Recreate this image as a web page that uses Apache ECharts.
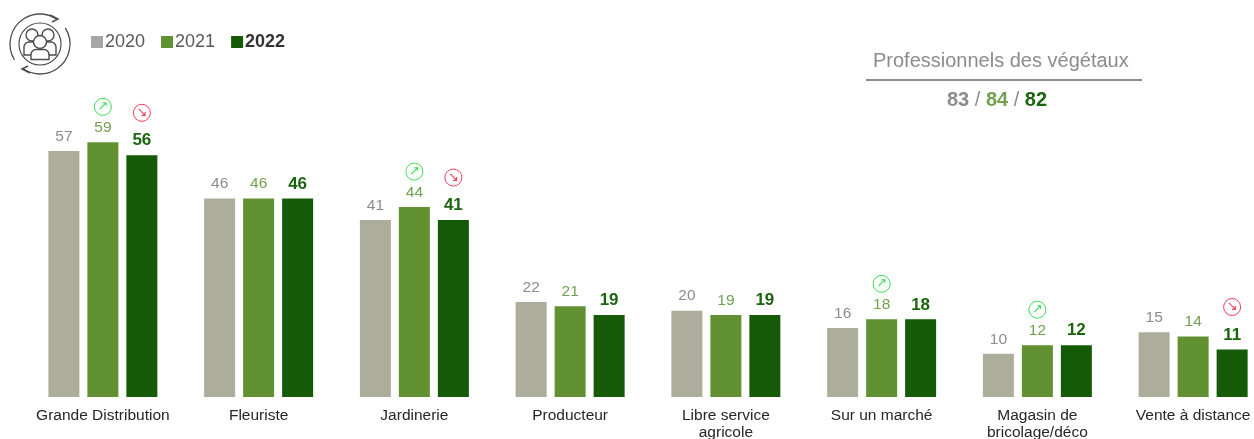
<!DOCTYPE html>
<html><head><meta charset="utf-8">
<script src="https://cdn.jsdelivr.net/npm/echarts@6/dist/echarts.min.js"></script>
<style>html,body{margin:0;padding:0;background:#fff}#c{width:1254px;height:439px}</style></head>
<body><div id="c"></div>
<script>
const categories = ['Grande Distribution','Fleuriste','Jardinerie','Producteur','Libre service\nagricole','Sur un marché','Magasin de\nbricolage/déco','Vente à distance'];
const v2020 = [57,46,41,22,20,16,10,15];
const v2021 = [59,46,44,21,19,18,12,14];
const v2022 = [56,46,41,19,19,18,12,11];
const trend2021 = ['up','','up','','','up','up',''];
const trend2022 = ['down','','down','','','','','down'];
const summaryTitle = 'Professionnels des végétaux';
const summary = [83,84,82];

const font = '"Liberation Sans", Arial, sans-serif';
const grayT='#8c8c8c', midT='#73a050', darkT='#1b650f';
const badge = (c)=>({width:17,height:17,lineHeight:17,borderRadius:9,borderWidth:1,borderColor:c,color:c,align:'center',fontSize:13,fontFamily:'"DejaVu Sans"',padding:0});
const rich = (col,size,w)=>({
  v:{color:col,fontSize:size,fontWeight:w,fontFamily:font,lineHeight:19},
  sp1:{fontSize:1,lineHeight:3},
  sp2:{fontSize:1,lineHeight:10},
  up:badge('#3fdc55'),
  down:badge('#f0405c')
});
function series(name,data,color,textCol,size,w,trend){
  return {name,type:'bar',data,barWidth:31,barGap:'25.8%',
    itemStyle:{color},
    label:{show:true,position:'top',distance:5,
      formatter:p=>{const t=trend&&trend[p.dataIndex];
        const mark=t==='up'?'{up|↗}\n{sp1| }\n':t==='down'?'{down|↘}\n{sp2| }\n':'';
        return mark+'{v|'+p.value+'}';},
      rich:rich(textCol,size,w)}};
}
const chart = echarts.init(document.getElementById('c'),null,{renderer:'canvas'});
const ic='#4d4d4d';
const person=(cx,cy,r,bw,bh)=>[
 {type:'rect',shape:{x:cx-bw,y:cy+r+1,width:2*bw,height:bh,r:[5,5,0,0]},style:{fill:'#fff',stroke:ic,lineWidth:1.4}},
 {type:'circle',shape:{cx,cy,r},style:{fill:'#fff',stroke:ic,lineWidth:1.4}}
];
const ring=(start,end)=>({type:'arc',shape:{cx:40,cy:44,r:30,startAngle:start,endAngle:end,clockwise:true},style:{fill:'none',stroke:ic,lineWidth:1.3}});
const head=(pts)=>({type:'polyline',shape:{points:pts},style:{fill:'none',stroke:ic,lineWidth:1.5}});
chart.setOption({
  animation:false,
  backgroundColor:'#fff',
  grid:{left:25,top:20,width:1246,height:377,containLabel:false,outerBoundsMode:'none'},
  xAxis:{type:'category',data:categories,axisLine:{show:false},axisTick:{show:false},
    axisLabel:{interval:0,color:'#262626',fontSize:15.5,fontFamily:font,margin:10,lineHeight:17,verticalAlign:'top',overflow:'none',hideOverlap:false}},
  yAxis:{type:'value',min:0,max:87.35,show:false,splitLine:{show:false}},
  legend:{left:86,top:28,icon:'rect',itemWidth:12,itemHeight:12,itemGap:16,
    data:[
      {name:'2020',itemStyle:{color:'#a6a6a6'},textStyle:{color:'#595959',fontSize:18,fontFamily:font,padding:[0,0,0,-3]}},
      {name:'2021',itemStyle:{color:'#619130'},textStyle:{color:'#595959',fontSize:18,fontFamily:font,padding:[0,0,0,-3]}},
      {name:'2022',itemStyle:{color:'#145a07'},textStyle:{color:'#333',fontSize:18,fontWeight:'bold',fontFamily:font,padding:[0,0,0,-3]}}
    ]},
  series:[
    series('2020',v2020,'#adad9c',grayT,15.5,'normal',null),
    series('2021',v2021,'#619130',midT,15.5,'normal',trend2021),
    series('2022',v2022,'#145a07',darkT,17,'bold',trend2022)
  ],
  graphic:[
    {type:'text',x:873,y:51,style:{text:summaryTitle,fill:'#8c8c8c',fontSize:20,fontFamily:font}},
    {type:'line',shape:{x1:866,y1:80,x2:1142,y2:80},style:{stroke:'#8c8c8c',lineWidth:2}},
    {type:'text',x:997,y:100,style:{
      rich:{a:{fill:grayT,fontSize:20,fontWeight:'bold',fontFamily:font},
            s:{fill:grayT,fontSize:20,fontFamily:font},
            b:{fill:midT,fontSize:20,fontWeight:'bold',fontFamily:font},
            c:{fill:darkT,fontSize:20,fontWeight:'bold',fontFamily:font}},
      text:`{a|${summary[0]}}{s| / }{b|${summary[1]}}{s| / }{c|${summary[2]}}`,
      align:'center',verticalAlign:'middle'}},
    {type:'circle',shape:{cx:40,cy:44,r:21},style:{fill:'none',stroke:ic,lineWidth:1.2}},
    ring(2.59,5.33),ring(-0.57,2.21),
    head([[50,15],[58,19],[52,22]]),
    head([[30,73],[22,69],[28,66]]),
    ...person(32,35,6,8,13),
    ...person(48,35,6,8,13),
    ...person(40,42,6.5,9,10)
  ]
});
</script></body></html>
